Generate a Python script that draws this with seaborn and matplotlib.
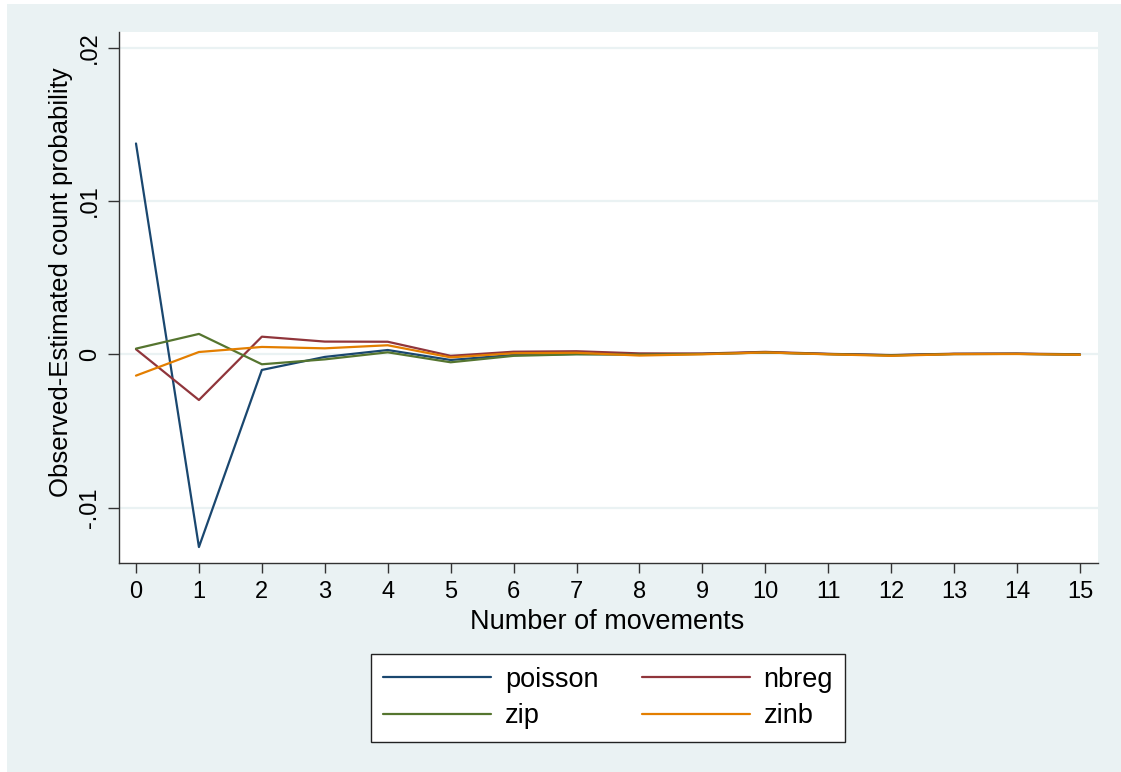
import numpy as np
import pandas as pd
import matplotlib
matplotlib.use("Agg")
import matplotlib.pyplot as plt
import seaborn as sns
from matplotlib.patches import Rectangle

# values (observed - estimated count probability)
movements = list(range(16))
poisson = [0.01375, -0.01257, -0.00102, -0.00017, 0.00028, -0.00037, -0.00004, 0.00002,
           0.00000, 0.00003, 0.00012, 0.00002, -0.00006, 0.00002, 0.00003, -0.00002]
nbreg = [0.00033, -0.00298, 0.00115, 0.00083, 0.00082, -0.00010, 0.00017, 0.00020,
         0.00006, 0.00005, 0.00016, 0.00003, -0.00005, 0.00004, 0.00005, 0.00000]
zip_ = [0.00037, 0.00133, -0.00065, -0.00033, 0.00013, -0.00052, -0.00010, 0.00000,
        -0.00002, 0.00002, 0.00012, 0.00001, -0.00007, 0.00002, 0.00003, -0.00002]
zinb = [-0.00139, 0.00015, 0.00048, 0.00039, 0.00059, -0.00020, 0.00007, 0.00010,
        -0.00008, 0.00000, 0.00012, 0.00000, -0.00010, 0.00001, 0.00002, -0.00003]
models = ["poisson", "nbreg", "zip", "zinb"]
y_ticks = [-0.01, 0, 0.01, 0.02]
y_ticklabels = ["-.01", "0", ".01", ".02"]

colors = {"poisson": "#1a476f", "nbreg": "#90353b", "zip": "#55752f", "zinb": "#e37e00"}
bg = "#eaf2f3"

df = pd.DataFrame({
    "movements": movements * 4,
    "value": poisson + nbreg + zip_ + zinb,
    "model": [m for m in models for _ in movements],
})

sns.set_style("ticks")
plt.rcParams["font.family"] = ["Liberation Sans", "DejaVu Sans"]
plt.rcParams["text.color"] = "black"
plt.rcParams["axes.labelcolor"] = "black"
plt.rcParams["xtick.color"] = "black"
plt.rcParams["ytick.color"] = "black"

fig = plt.figure(figsize=(11.21, 7.72), dpi=100)
fig.patch.set_facecolor("white")
# light graph region, with the thin white margin at left and top
fig.patches.append(Rectangle((7 / 1121, 0), 1, 1 - 4 / 772, transform=fig.transFigure,
                             facecolor=bg, edgecolor="none", zorder=-10))

ax = fig.add_axes([119 / 1121, 1 - 563 / 772, 979 / 1121, 531 / 772])
ax.set_facecolor("white")

sns.lineplot(data=df, x="movements", y="value", hue="model", hue_order=models,
             palette=colors, linewidth=1.6, ax=ax)

ax.set_xlim(-0.27, 15.287)
ax.set_ylim(-0.01361, 0.02102)
ax.set_xticks(movements)
ax.set_yticks(y_ticks)
ax.set_yticklabels(y_ticklabels, rotation=90, va="center")
ax.tick_params(axis="x", labelsize=17, length=7, width=1, color="#333333", pad=6)
ax.tick_params(axis="y", labelsize=17, length=8, width=1, color="#333333", pad=5)
for y in y_ticks:
    ax.axhline(y, color=bg, linewidth=1.6, zorder=0)

for s in ["top", "right"]:
    ax.spines[s].set_visible(False)
for s in ["left", "bottom"]:
    ax.spines[s].set_color("#333333")
    ax.spines[s].set_linewidth(1.0)

ax.set_xlabel("Number of movements", fontsize=19.5)
ax.set_ylabel("Observed-Estimated count probability", fontsize=18.5)
ax.xaxis.set_label_coords(0.499, -0.087)
ax.yaxis.set_label_coords(-0.047, 0.529)

handles, labels = ax.get_legend_handles_labels()
ax.get_legend().remove()
order = [0, 2, 1, 3]
fig.legend([handles[i] for i in order], [labels[i] for i in order],
           ncol=2, loc="center", bbox_to_anchor=(608 / 1121, 1 - 698 / 772),
           fontsize=19.5, handlelength=4.0, handletextpad=0.5, columnspacing=1.6,
           labelspacing=0.4, borderpad=0.45, frameon=True, fancybox=False,
           framealpha=1, edgecolor="#222222", facecolor="white")
fig.legends[0].get_frame().set_linewidth(1.0)

fig.savefig("out.png", dpi=100, facecolor=fig.get_facecolor())
